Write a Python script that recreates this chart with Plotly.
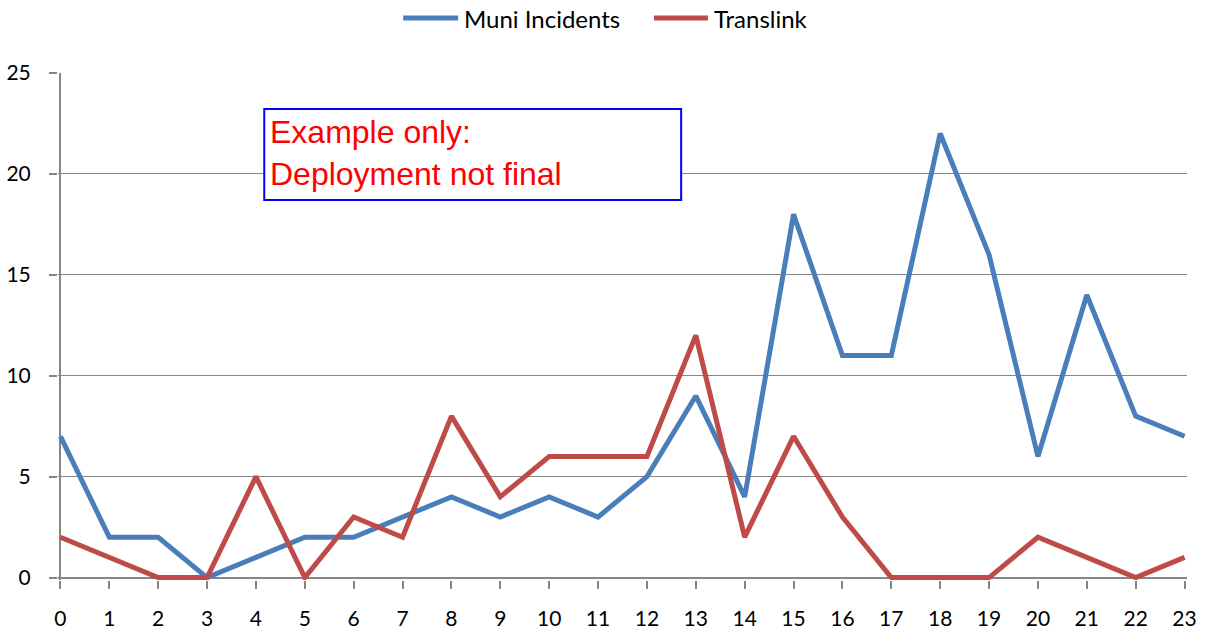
import plotly.graph_objects as go

hours = list(range(24))
muni = [7, 2, 2, 0, 1, 2, 2, 3, 4, 3, 4, 3, 5, 9, 4, 18, 11, 11, 22, 16, 6, 14, 8, 7]
translink = [2, 1, 0, 0, 5, 0, 3, 2, 8, 4, 6, 6, 6, 12, 2, 7, 3, 0, 0, 0, 2, 1, 0, 1]
series_names = ["Muni Incidents", "Translink"]
y_ticks = [0, 5, 10, 15, 20, 25]
note_text = "Example only:<br>Deployment not final"

BLUE = "#4A7EBB"
RED = "#BE4B48"
GRID = "#868686"
FONT = "Lato, Calibri, Carlito, sans-serif"
colors = [BLUE, RED]

W, H = 1205, 632
ML, MR, MT, MB = 57.5, 17.5, 73, 51.6
PW, PH = W - ML - MR, H - MT - MB


def px_x(px):
    return (px - ML) / PW


def px_y(py):
    return 1 + (MT - py) / PH


fig = go.Figure()
for name, vals, col in zip(series_names, [muni, translink], colors):
    fig.add_trace(go.Scatter(x=hours, y=vals, mode="lines", name=name,
                             line=dict(color=col, width=5), showlegend=False))

fig.update_layout(
    width=W, height=H,
    margin=dict(l=ML, r=MR, t=MT, b=MB, pad=0, autoexpand=False),
    plot_bgcolor="white", paper_bgcolor="white",
    font=dict(family=FONT, size=21, color="black"),
    showlegend=False,
)

fig.update_xaxes(
    range=[-0.05, 23.05], tickmode="array", tickvals=hours, ticktext=[str(h) for h in hours],
    showgrid=False, zeroline=True, zerolinecolor=GRID, zerolinewidth=1.5,
    showline=False, ticks="outside", ticklen=8, tickcolor=GRID, tickwidth=1.5,
    ticklabelstandoff=12, tickfont=dict(size=21, family=FONT), automargin=False,
)
fig.update_yaxes(
    range=[-0.12, 25], tickmode="array", tickvals=y_ticks,
    showgrid=True, gridcolor=GRID, gridwidth=1.3,
    zeroline=True, zerolinecolor=GRID, zerolinewidth=1.5,
    showline=False, ticks="outside", ticklen=8, tickcolor=GRID, tickwidth=1.5,
    ticklabelstandoff=14, tickfont=dict(size=21, family=FONT), automargin=False,
)

# custom legend (line sample + label) placed like the reference
legend_items = [(403, 458, 462), (654, 708, 712)]
for (x0, x1, tx), name, col in zip(legend_items, series_names, colors):
    fig.add_shape(type="line", xref="paper", yref="paper",
                  x0=px_x(x0), x1=px_x(x1), y0=px_y(18), y1=px_y(18),
                  line=dict(color=col, width=5))
    fig.add_annotation(xref="paper", yref="paper", x=px_x(tx), y=px_y(18),
                       xanchor="left", yanchor="middle", text=name, showarrow=False,
                       font=dict(size=24, family=FONT, color="black"))

fig.add_shape(type="rect", xref="x", yref="y", x0=4.17, x1=12.70, y0=18.71, y1=23.22,
              line=dict(color="#0000FF", width=2), fillcolor="white", layer="above")
fig.add_annotation(xref="x", yref="y", x=4.25, y=21.05, xanchor="left", yanchor="middle",
                   text=note_text, showarrow=False, align="left",
                   font=dict(family="Liberation Sans, Arial, sans-serif", size=32, color="#FF0000"))

fig.write_html("out.html", config={"displayModeBar": False},
               post_script="document.body.style.margin='0px';")
